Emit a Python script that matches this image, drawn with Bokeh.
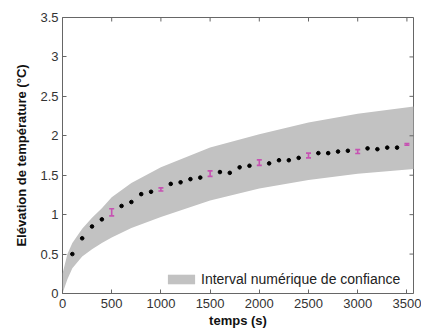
import math
from bokeh.plotting import figure
from bokeh.models import LinearAxis, FixedTicker, Range1d, Legend, LegendItem
from bokeh.embed import file_html
from bokeh.resources import INLINE

# ---- data ----
band_t = [0, 50, 100, 200, 300, 400, 500, 700, 1000, 1500, 2000, 2500, 3000, 3570]
band_lower = [0.0, 0.18, 0.32, 0.47, 0.56, 0.64, 0.71, 0.83, 0.97, 1.18, 1.33, 1.44, 1.52, 1.58]
band_upper = [0.25, 0.50, 0.64, 0.82, 0.96, 1.08, 1.22, 1.40, 1.60, 1.85, 2.02, 2.17, 2.28, 2.37]

sim_t = [100, 200, 300, 400, 600, 700, 800, 900, 1100, 1200, 1300, 1400, 1600, 1700,
         1800, 1900, 2100, 2200, 2300, 2400, 2600, 2700, 2800, 2900, 3100, 3200, 3300, 3400]
sim_T = [0.50, 0.70, 0.85, 0.94, 1.11, 1.16, 1.26, 1.29, 1.39, 1.41, 1.45, 1.47, 1.54, 1.53,
         1.60, 1.62, 1.65, 1.69, 1.69, 1.72, 1.78, 1.78, 1.80, 1.81, 1.84, 1.83, 1.85, 1.85]

exp_t = [500, 1000, 1500, 2000, 2500, 3000, 3500]
exp_T = [1.03, 1.32, 1.52, 1.66, 1.75, 1.80, 1.89]
exp_err = [0.045, 0.02, 0.035, 0.035, 0.03, 0.025, 0.01]

x_ticks = [0, 500, 1000, 1500, 2000, 2500, 3000, 3500]
y_ticks = [0, 0.5, 1, 1.5, 2, 2.5, 3, 3.5]
y_tick_labels = ["0", "0.5", "1", "1.5", "2", "2.5", "3", "3.5"]

legend_text = "Interval numérique de confiance"
x_label = "temps (s)"
y_label = "Elévation de température (°C)"

FONT = "Liberation Sans"
FRAME = "#666666"
TXT = "#333333"
MAG = "#c652b2"

X_END, Y_END = 3567, 3.5

p = figure(width=421, height=330, output_backend="svg", toolbar_location=None,
           x_range=Range1d(0, X_END), y_range=Range1d(0, Y_END),
           min_border_left=62, min_border_top=17, min_border_right=8, min_border_bottom=37,
           x_axis_location=None, y_axis_location=None)
p.grid.visible = False
p.outline_line_color = FRAME
p.outline_line_width = 1
p.background_fill_color = "white"
p.border_fill_color = "white"

band = p.varea(x=band_t, y1=band_lower, y2=band_upper, fill_color="#c2c2c2")

p.scatter(sim_t, sim_T, size=3.6, color="black")

lo = [m - e for m, e in zip(exp_T, exp_err)]
hi = [m + e for m, e in zip(exp_T, exp_err)]
p.segment(x0=exp_t, y0=lo, x1=exp_t, y1=hi, line_color=MAG, line_width=1.6)
p.scatter(exp_t, lo, marker="dash", size=5, line_color=MAG, line_width=1.6)
p.scatter(exp_t, hi, marker="dash", size=5, line_color=MAG, line_width=1.6)

# inward tick marks on the top and right edges of the box (clipped to the frame)
p.scatter(x_ticks, [Y_END] * len(x_ticks), marker="dash", angle=math.pi / 2,
          size=8, line_color=FRAME, line_width=1)
p.scatter([X_END] * len(y_ticks), y_ticks, marker="dash",
          size=8, line_color=FRAME, line_width=1)


def mk_axis(ticks, overrides=None):
    ax = LinearAxis(ticker=FixedTicker(ticks=ticks))
    ax.axis_line_color = None
    ax.major_tick_in = 4
    ax.major_tick_out = 0
    ax.major_tick_line_color = FRAME
    ax.minor_tick_line_color = None
    ax.major_label_text_font = FONT
    ax.major_label_text_font_size = "13px"
    ax.major_label_text_color = TXT
    if overrides:
        ax.major_label_overrides = overrides
    return ax


xb = mk_axis(x_ticks)
xb.major_label_standoff = 5
xb.axis_label = x_label
xb.axis_label_text_font = FONT
xb.axis_label_text_font_size = "13px"
xb.axis_label_text_font_style = "bold"
xb.axis_label_text_color = "#111111"
xb.axis_label_standoff = 2
p.add_layout(xb, "below")

yl = mk_axis(y_ticks, {t: s for t, s in zip(y_ticks, y_tick_labels)})
yl.major_label_standoff = 4
yl.axis_label = y_label
yl.axis_label_text_font = FONT
yl.axis_label_text_font_size = "13px"
yl.axis_label_text_font_style = "bold"
yl.axis_label_text_color = "#111111"
yl.axis_label_standoff = 8
p.add_layout(yl, "left")

legend = Legend(items=[LegendItem(label=legend_text, renderers=[band])],
                location=(102, 6))
legend.border_line_color = None
legend.background_fill_alpha = 0
legend.margin = 0
legend.padding = 3
legend.glyph_width = 34
legend.glyph_height = 12
legend.label_standoff = 3
legend.label_text_font = FONT
legend.label_text_font_size = "14px"
legend.label_text_color = "#222222"
p.add_layout(legend)

open("out.html", "w").write(file_html(p, INLINE))
